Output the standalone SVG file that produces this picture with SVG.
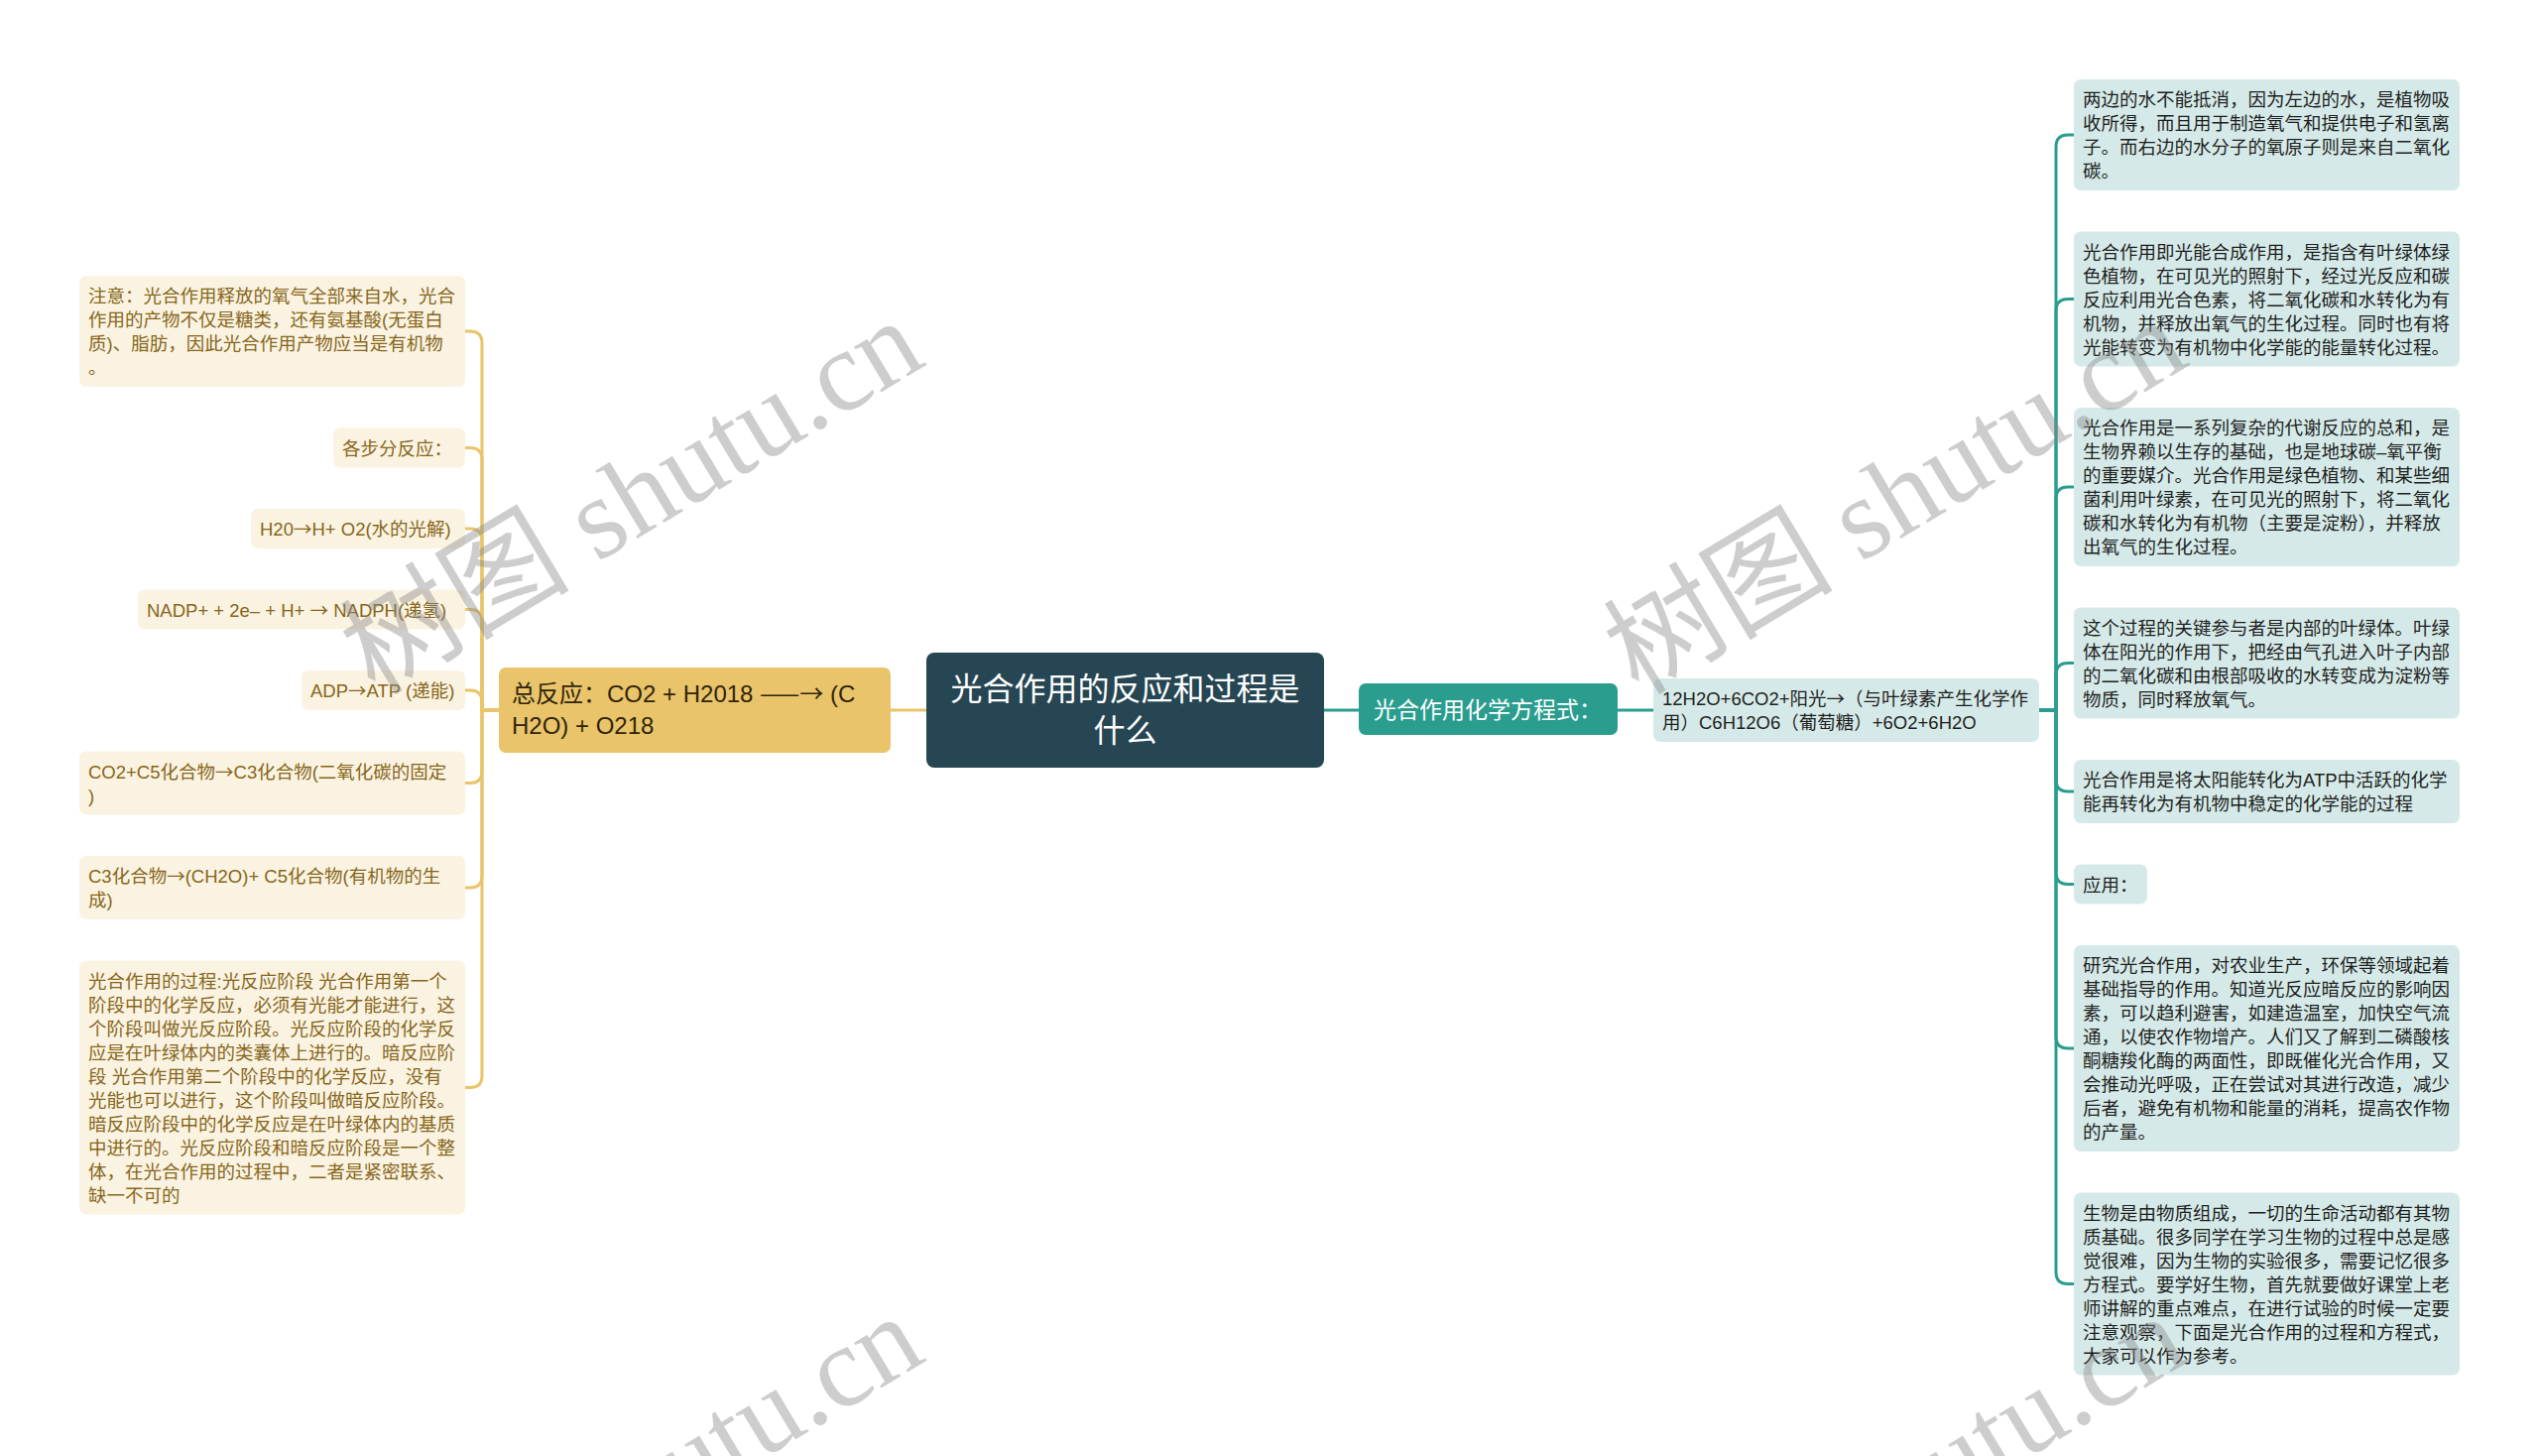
<svg xmlns="http://www.w3.org/2000/svg" width="2560" height="1468" viewBox="0 0 2560 1468">
<style>
text{font-family:"Liberation Sans","Noto Sans CJK SC",sans-serif;}
.ar{font-family:"Noto Sans CJK SC",sans-serif;}
.lf rect{fill:#fbf3e2;}
.lf text{fill:#86661a;font-size:18.5px;}
.rt rect{fill:#d5eae8;}
.rt text{fill:#1e1e1e;font-size:18.5px;}
.cl{fill:none;stroke:#e9c46a;stroke-width:3;}
.cr{fill:none;stroke:#2a9d8f;stroke-width:3;}
.wm text{font-family:"Liberation Serif","Noto Sans CJK SC",serif;font-size:116px;fill:#8a8a8a;opacity:0.42;}
</style>
<rect width="2560" height="1468" fill="#ffffff"/>
<g id="connectors">
<path class="cl" d="M898 716H934"/>
<path class="cr" d="M1335 716H1370"/>
<path class="cr" d="M1631 716H1667"/>
<path class="cl" d="M503 716H486V346Q486 334 474 334H469"/>
<path class="cl" d="M503 716H486V463.5Q486 451.5 474 451.5H469"/>
<path class="cl" d="M503 716H486V545Q486 533 474 533H469"/>
<path class="cl" d="M503 716H486V626.5Q486 614.5 474 614.5H469"/>
<path class="cl" d="M503 716H486V708Q486 696 474 696H469"/>
<path class="cl" d="M503 716H486V777.5Q486 789.5 474 789.5H469"/>
<path class="cl" d="M503 716H486V883Q486 895 474 895H469"/>
<path class="cl" d="M503 716H486V1084.5Q486 1096.5 474 1096.5H469"/>
<path class="cr" d="M2056 716H2073V148Q2073 136 2085 136H2091"/>
<path class="cr" d="M2056 716H2073V313.5Q2073 301.5 2085 301.5H2091"/>
<path class="cr" d="M2056 716H2073V503Q2073 491 2085 491H2091"/>
<path class="cr" d="M2056 716H2073V680.5Q2073 668.5 2085 668.5H2091"/>
<path class="cr" d="M2056 716H2073V786Q2073 798 2085 798H2091"/>
<path class="cr" d="M2056 716H2073V879.5Q2073 891.5 2085 891.5H2091"/>
<path class="cr" d="M2056 716H2073V1045Q2073 1057 2085 1057H2091"/>
<path class="cr" d="M2056 716H2073V1282.5Q2073 1294.5 2085 1294.5H2091"/>
</g>
<g id="root">
<rect x="934" y="658" width="401" height="116" rx="8" fill="#264653"/>
<text x="1134.5" y="706" font-size="32" fill="#ffffff" text-anchor="middle">光合作用的反应和过程是<tspan x="1134.5" dy="42">什么</tspan></text>
</g>
<g id="main-left">
<rect x="503" y="673" width="395" height="86" rx="7" fill="#e9c46a"/>
<text x="516" y="708" font-size="24" fill="#2f2508">总反应：CO2 + H2018 <tspan class="ar">——→</tspan> (C<tspan x="516" dy="32">H2O) + O218</tspan></text>
</g>
<g id="main-right">
<rect x="1370" y="689" width="261" height="52" rx="7" fill="#2a9d8f"/>
<text x="1385" y="723.5" font-size="23" fill="#ffffff">光合作用化学方程式：</text>
</g>
<g id="equation" class="rt">
<rect x="1667" y="684" width="389" height="64" rx="7"/>
<text x="1676" y="711">12H2O+6CO2+阳光<tspan class="ar">→</tspan>（与叶绿素产生化学作<tspan x="1676" dy="24">用）C6H12O6（葡萄糖）+6O2+6H2O</tspan></text>
</g>
<g id="left-1" class="lf">
<rect x="80" y="278" width="389" height="112" rx="7"/>
<text x="89" y="305">注意：光合作用释放的氧气全部来自水，光合<tspan x="89" dy="24">作用的产物不仅是糖类，还有氨基酸(无蛋白</tspan><tspan x="89" dy="24">质)、脂肪，因此光合作用产物应当是有机物</tspan><tspan x="89" dy="24">。</tspan></text>
</g>
<g id="left-2" class="lf">
<rect x="336" y="431.5" width="133" height="40" rx="7"/>
<text x="345" y="458.5">各步分反应：</text>
</g>
<g id="left-3" class="lf">
<rect x="253" y="513" width="216" height="40" rx="7"/>
<text x="262" y="540">H20<tspan class="ar">→</tspan>H+ O2(水的光解)</text>
</g>
<g id="left-4" class="lf">
<rect x="139" y="594.5" width="330" height="40" rx="7"/>
<text x="148" y="621.5">NADP+ + 2e– + H+ <tspan class="ar">→</tspan> NADPH(递氢)</text>
</g>
<g id="left-5" class="lf">
<rect x="304" y="676" width="165" height="40" rx="7"/>
<text x="313" y="703">ADP<tspan class="ar">→</tspan>ATP (递能)</text>
</g>
<g id="left-6" class="lf">
<rect x="80" y="757.5" width="389" height="64" rx="7"/>
<text x="89" y="784.5">CO2+C5化合物<tspan class="ar">→</tspan>C3化合物(二氧化碳的固定<tspan x="89" dy="24">)</tspan></text>
</g>
<g id="left-7" class="lf">
<rect x="80" y="863" width="389" height="64" rx="7"/>
<text x="89" y="890">C3化合物<tspan class="ar">→</tspan>(CH2O)+ C5化合物(有机物的生<tspan x="89" dy="24">成)</tspan></text>
</g>
<g id="left-8" class="lf">
<rect x="80" y="968.5" width="389" height="256" rx="7"/>
<text x="89" y="995.5">光合作用的过程:光反应阶段 光合作用第一个<tspan x="89" dy="24">阶段中的化学反应，必须有光能才能进行，这</tspan><tspan x="89" dy="24">个阶段叫做光反应阶段。光反应阶段的化学反</tspan><tspan x="89" dy="24">应是在叶绿体内的类囊体上进行的。暗反应阶</tspan><tspan x="89" dy="24">段 光合作用第二个阶段中的化学反应，没有</tspan><tspan x="89" dy="24">光能也可以进行，这个阶段叫做暗反应阶段。</tspan><tspan x="89" dy="24">暗反应阶段中的化学反应是在叶绿体内的基质</tspan><tspan x="89" dy="24">中进行的。光反应阶段和暗反应阶段是一个整</tspan><tspan x="89" dy="24">体，在光合作用的过程中，二者是紧密联系、</tspan><tspan x="89" dy="24">缺一不可的</tspan></text>
</g>
<g id="right-1" class="rt">
<rect x="2091" y="80" width="389" height="112" rx="7"/>
<text x="2100" y="107">两边的水不能抵消，因为左边的水，是植物吸<tspan x="2100" dy="24">收所得，而且用于制造氧气和提供电子和氢离</tspan><tspan x="2100" dy="24">子。而右边的水分子的氧原子则是来自二氧化</tspan><tspan x="2100" dy="24">碳。</tspan></text>
</g>
<g id="right-2" class="rt">
<rect x="2091" y="233.5" width="389" height="136" rx="7"/>
<text x="2100" y="260.5">光合作用即光能合成作用，是指含有叶绿体绿<tspan x="2100" dy="24">色植物，在可见光的照射下，经过光反应和碳</tspan><tspan x="2100" dy="24">反应利用光合色素，将二氧化碳和水转化为有</tspan><tspan x="2100" dy="24">机物，并释放出氧气的生化过程。同时也有将</tspan><tspan x="2100" dy="24">光能转变为有机物中化学能的能量转化过程。</tspan></text>
</g>
<g id="right-3" class="rt">
<rect x="2091" y="411" width="389" height="160" rx="7"/>
<text x="2100" y="438">光合作用是一系列复杂的代谢反应的总和，是<tspan x="2100" dy="24">生物界赖以生存的基础，也是地球碳–氧平衡</tspan><tspan x="2100" dy="24">的重要媒介。光合作用是绿色植物、和某些细</tspan><tspan x="2100" dy="24">菌利用叶绿素，在可见光的照射下，将二氧化</tspan><tspan x="2100" dy="24">碳和水转化为有机物（主要是淀粉），并释放</tspan><tspan x="2100" dy="24">出氧气的生化过程。</tspan></text>
</g>
<g id="right-4" class="rt">
<rect x="2091" y="612.5" width="389" height="112" rx="7"/>
<text x="2100" y="639.5">这个过程的关键参与者是内部的叶绿体。叶绿<tspan x="2100" dy="24">体在阳光的作用下，把经由气孔进入叶子内部</tspan><tspan x="2100" dy="24">的二氧化碳和由根部吸收的水转变成为淀粉等</tspan><tspan x="2100" dy="24">物质，同时释放氧气。</tspan></text>
</g>
<g id="right-5" class="rt">
<rect x="2091" y="766" width="389" height="64" rx="7"/>
<text x="2100" y="793">光合作用是将太阳能转化为ATP中活跃的化学<tspan x="2100" dy="24">能再转化为有机物中稳定的化学能的过程</tspan></text>
</g>
<g id="right-6" class="rt">
<rect x="2091" y="871.5" width="74" height="40" rx="7"/>
<text x="2100" y="898.5">应用：</text>
</g>
<g id="right-7" class="rt">
<rect x="2091" y="953" width="389" height="208" rx="7"/>
<text x="2100" y="980">研究光合作用，对农业生产，环保等领域起着<tspan x="2100" dy="24">基础指导的作用。知道光反应暗反应的影响因</tspan><tspan x="2100" dy="24">素，可以趋利避害，如建造温室，加快空气流</tspan><tspan x="2100" dy="24">通，以使农作物增产。人们又了解到二磷酸核</tspan><tspan x="2100" dy="24">酮糖羧化酶的两面性，即既催化光合作用，又</tspan><tspan x="2100" dy="24">会推动光呼吸，正在尝试对其进行改造，减少</tspan><tspan x="2100" dy="24">后者，避免有机物和能量的消耗，提高农作物</tspan><tspan x="2100" dy="24">的产量。</tspan></text>
</g>
<g id="right-8" class="rt">
<rect x="2091" y="1202.5" width="389" height="184" rx="7"/>
<text x="2100" y="1229.5">生物是由物质组成，一切的生命活动都有其物<tspan x="2100" dy="24">质基础。很多同学在学习生物的过程中总是感</tspan><tspan x="2100" dy="24">觉很难，因为生物的实验很多，需要记忆很多</tspan><tspan x="2100" dy="24">方程式。要学好生物，首先就要做好课堂上老</tspan><tspan x="2100" dy="24">师讲解的重点难点，在进行试验的时候一定要</tspan><tspan x="2100" dy="24">注意观察，下面是光合作用的过程和方程式，</tspan><tspan x="2100" dy="24">大家可以作为参考。</tspan></text>
</g>
<g id="watermarks" class="wm">
<text transform="translate(378,702) rotate(-31)">树图 shutu.cn</text>
<text transform="translate(1652,702) rotate(-31)">树图 shutu.cn</text>
<text transform="translate(378,1706) rotate(-31)">树图 shutu.cn</text>
<text transform="translate(1652,1706) rotate(-31)">树图 shutu.cn</text>
</g>
</svg>
